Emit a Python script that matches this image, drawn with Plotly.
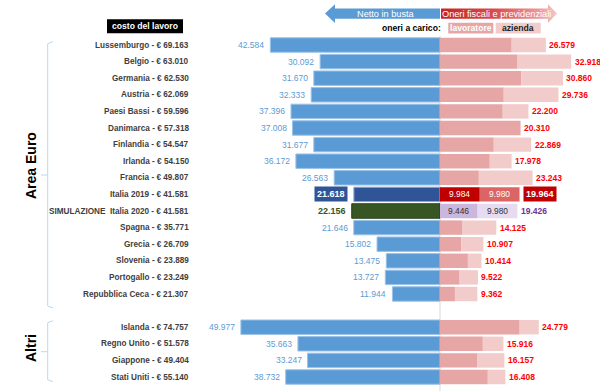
import plotly.graph_objects as go

# ---------------- data ----------------
countries = ["Lussemburgo", "Belgio", "Germania", "Austria", "Paesi Bassi", "Danimarca",
             "Finlandia", "Irlanda", "Francia", "Italia 2019", "SIMULAZIONE  Italia 2020",
             "Spagna", "Grecia", "Slovenia", "Portogallo", "Repubblica Ceca",
             "Islanda", "Regno Unito", "Giappone", "Stati Uniti"]
costs = [69163, 63010, 62530, 62069, 59596, 57318, 54547, 54150, 49807, 41581, 41581,
         35771, 26709, 23889, 23249, 21307, 74757, 51578, 49404, 55140]
net = [42584, 30092, 31670, 32333, 37396, 37008, 31677, 36172, 26563, 21618, 22156,
       21646, 15802, 13475, 13727, 11944, 49977, 35663, 33247, 38732]
oneri_tot = [26579, 32918, 30860, 29736, 22200, 20310, 22869, 17978, 23243, 19964, 19426,
             14125, 10907, 10414, 9522, 9362, 24779, 15916, 16157, 16408]
lavoratore = [18000, 19330, 20420, 16000, 15750, 20100, 13500, 12500, 9750, 9984, 9446,
              5670, 5330, 7000, 4920, 3750, 20000, 10750, 9420, 12000]
azienda = [8579, 13588, 10440, 13736, 6450, 210, 9369, 5478, 13493, 9980, 9980,
           8455, 5577, 3414, 4602, 5612, 4779, 5166, 6737, 4408]
groups = ["Area Euro"] * 16 + ["Altri"] * 4

IT19 = 9
SIM = 10

# ---------------- geometry helpers (pixel -> data) ----------------
W, H = 600, 391
CX = 440          # pixel of zero
UPP = 251         # units per pixel
ROW0 = 45         # pixel y of first row
PITCH = 16.6      # pixel per row


def X(px):
    return (px - CX) * UPP


def Y(py):
    return (py - ROW0) / PITCH


# row positions: Euro area 0..15, gap, then others
ypos = []
r = 0
prev = groups[0]
for g in groups:
    if g != prev:
        r += 1
        prev = g
    ypos.append(r)
    r += 1


def fmt(v):
    return f"{v:,}".replace(",", ".")


FONT = "Liberation Sans, Arial, sans-serif"
BLUE = "#5B9BD5"
LAV = "#E6A6A6"
AZI = "#F2CBCB"

net_colors = [BLUE] * len(net)
net_colors[IT19] = "#2F5597"
net_colors[SIM] = "#375623"
net_lines = ["#9CC2E8"] * len(net)
net_lines[IT19] = "#8FAADC"
net_lines[SIM] = "#2A4019"
lav_colors = [LAV] * len(net)
lav_colors[IT19] = "#C00000"
lav_colors[SIM] = "#CBB6DE"
azi_colors = [AZI] * len(net)
azi_colors[IT19] = "#DC6464"
azi_colors[SIM] = "#E6DBF0"

fig = go.Figure()

BW = 0.87
fig.add_trace(go.Bar(orientation="h", y=ypos, x=[-v for v in net], width=BW,
                     marker=dict(color=net_colors, line=dict(color=net_lines, width=1)),
                     hoverinfo="skip"))
fig.add_trace(go.Bar(orientation="h", y=ypos, x=lavoratore, base=0, width=BW,
                     marker=dict(color=lav_colors, line=dict(width=0)), hoverinfo="skip"))
fig.add_trace(go.Bar(orientation="h", y=ypos, x=azienda, base=lavoratore, width=BW,
                     marker=dict(color=azi_colors, line=dict(width=0)), hoverinfo="skip"))

ann = []
shapes = []

# country labels + values
for i, c in enumerate(countries):
    y = ypos[i]
    ann.append(dict(x=X(191), y=y, xref="x", yref="y", text=f"<b>{c} - € {fmt(costs[i])}</b>",
                    showarrow=False, xanchor="right", yanchor="middle",
                    font=dict(family=FONT, size=8.2, color="#404040")))
    # net labels
    if i == IT19:
        ann.append(dict(x=-net[i], y=y, text=f"<b>{fmt(net[i])}</b>", showarrow=False,
                        xanchor="right", xshift=-6, bgcolor="#2F5597", borderpad=2,
                        font=dict(family=FONT, size=9, color="white")))
    elif i == SIM:
        ann.append(dict(x=-net[i], y=y, text=f"<b>{fmt(net[i])}</b>", showarrow=False,
                        xanchor="right", xshift=-4,
                        font=dict(family=FONT, size=9, color="#375623")))
    else:
        ann.append(dict(x=-net[i], y=y, text=fmt(net[i]), showarrow=False,
                        xanchor="right", xshift=-4,
                        font=dict(family=FONT, size=8.5, color=BLUE)))
    # total oneri labels
    tot = lavoratore[i] + azienda[i]
    if i == IT19:
        ann.append(dict(x=tot, y=y, text=f"<b>{fmt(oneri_tot[i])}</b>", showarrow=False,
                        xanchor="left", xshift=3, bgcolor="#C00000", borderpad=2,
                        font=dict(family=FONT, size=9, color="white")))
    elif i == SIM:
        ann.append(dict(x=tot, y=y, text=f"<b>{fmt(oneri_tot[i])}</b>", showarrow=False,
                        xanchor="left", xshift=1.5,
                        font=dict(family=FONT, size=8.5, color="#7030A0")))
    else:
        ann.append(dict(x=tot, y=y, text=f"<b>{fmt(oneri_tot[i])}</b>", showarrow=False,
                        xanchor="left", xshift=1.5,
                        font=dict(family=FONT, size=8.5, color="#FF0000")))
    # inner labels for Italy rows
    if i in (IT19, SIM):
        col = "white" if i == IT19 else "#333333"
        ann.append(dict(x=lavoratore[i] / 2, y=y, text=fmt(lavoratore[i]), showarrow=False,
                        font=dict(family=FONT, size=8.4, color=col)))
        ann.append(dict(x=lavoratore[i] + azienda[i] / 2, y=y, text=fmt(azienda[i]),
                        showarrow=False, font=dict(family=FONT, size=8.4, color=col)))

# center line
shapes.append(dict(type="line", xref="x", yref="y", x0=0, x1=0, y0=Y(36), y1=Y(391),
                   line=dict(color="#D9D9D9", width=1), layer="below"))

# brackets
BR = "#BDD7EE"


def bracket(top_px, bot_px, mid_px):
    xl, xr, xm = X(47.7), X(53), X(41)
    path = (f"M {xr},{Y(top_px)} L {xl},{Y(top_px + 2)} L {xl},{Y(bot_px - 2)} L {xr},{Y(bot_px)} "
            f"M {xl},{Y(mid_px)} L {xm},{Y(mid_px)}")
    return dict(type="path", xref="x", yref="y", path=path, line=dict(color=BR, width=1))


shapes.append(bracket(41.7, 308, 175))
shapes.append(bracket(320.7, 381.7, 351.7))
ann.append(dict(x=X(31), y=Y(166), text="<b>Area Euro</b>", showarrow=False, textangle=-90,
                font=dict(family=FONT, size=14, color="black")))
ann.append(dict(x=X(31), y=Y(348), text="<b>Altri</b>", showarrow=False, textangle=-90,
                font=dict(family=FONT, size=14, color="black")))

# header: costo del lavoro
shapes.append(dict(type="rect", xref="x", yref="y", x0=X(107), x1=X(183), y0=Y(19.3), y1=Y(33.3),
                   fillcolor="black", line=dict(width=0)))
ann.append(dict(x=X(145), y=Y(26.3), text="<b>costo del lavoro</b>", showarrow=False,
                font=dict(family=FONT, size=8.6, color="white")))

# arrows
la_x = [325, 335, 335, 440, 440, 335, 335, 325]
la_y = [13.6, 4.3, 8.6, 8.6, 18.8, 18.8, 23, 13.6]
fig.add_trace(go.Scatter(x=[X(v) for v in la_x], y=[Y(v) for v in la_y], mode="lines",
                         fill="toself", fillcolor=BLUE, line=dict(width=0), hoverinfo="skip"))
ra_x = [441, 548, 548, 557, 548, 548, 441, 441]
ra_y = [8.6, 8.6, 4.3, 13.6, 23, 18.8, 18.8, 8.6]
fig.add_trace(go.Scatter(x=[X(v) for v in ra_x], y=[Y(v) for v in ra_y], mode="lines",
                         fill="toself", line=dict(width=0), hoverinfo="skip",
                         fillgradient=dict(type="horizontal",
                                           colorscale=[[0, "#C62424"], [0.45, "#D84A4A"],
                                                       [0.85, "#EE9A9A"], [1, "#F6C8C8"]])))
ann.append(dict(x=X(385.5), y=Y(13.8), text="Netto in busta", showarrow=False,
                font=dict(family=FONT, size=9.2, color="white")))
ann.append(dict(x=X(496), y=Y(13.8), text="Oneri fiscali e previdenziali", showarrow=False,
                font=dict(family=FONT, size=9.2, color="white")))

# legend for oneri
ann.append(dict(x=X(443), y=Y(28.3), text="<b>oneri a carico:</b>", showarrow=False,
                xanchor="right", font=dict(family=FONT, size=8.6, color="black")))
shapes.append(dict(type="rect", xref="x", yref="y", x0=X(448.3), x1=X(493.3), y0=Y(22.7), y1=Y(33.6),
                   fillcolor=LAV, line=dict(width=0)))
ann.append(dict(x=X(470.8), y=Y(28.3), text="<b>lavoratore</b>", showarrow=False,
                font=dict(family=FONT, size=8.6, color="white")))
shapes.append(dict(type="rect", xref="x", yref="y", x0=X(495.7), x1=X(540.7), y0=Y(22.7), y1=Y(33.6),
                   fillcolor=AZI, line=dict(width=0)))
ann.append(dict(x=X(518.2), y=Y(28.3), text="<b>azienda</b>", showarrow=False,
                font=dict(family=FONT, size=8.6, color="#222222")))

for a in ann:
    a.setdefault("xref", "x")
    a.setdefault("yref", "y")

fig.update_layout(
    width=W, height=H,
    margin=dict(l=0, r=0, t=0, b=0),
    paper_bgcolor="white", plot_bgcolor="white",
    barmode="overlay", showlegend=False, hovermode=False,
    xaxis=dict(range=[X(0), X(W)], visible=False, fixedrange=True),
    yaxis=dict(range=[Y(H), Y(0)], visible=False, fixedrange=True),
    annotations=ann, shapes=shapes,
)

fig.write_html("out.html", config={"displayModeBar": False},
               post_script="document.body.style.margin='0px';document.body.style.overflow='hidden';")
